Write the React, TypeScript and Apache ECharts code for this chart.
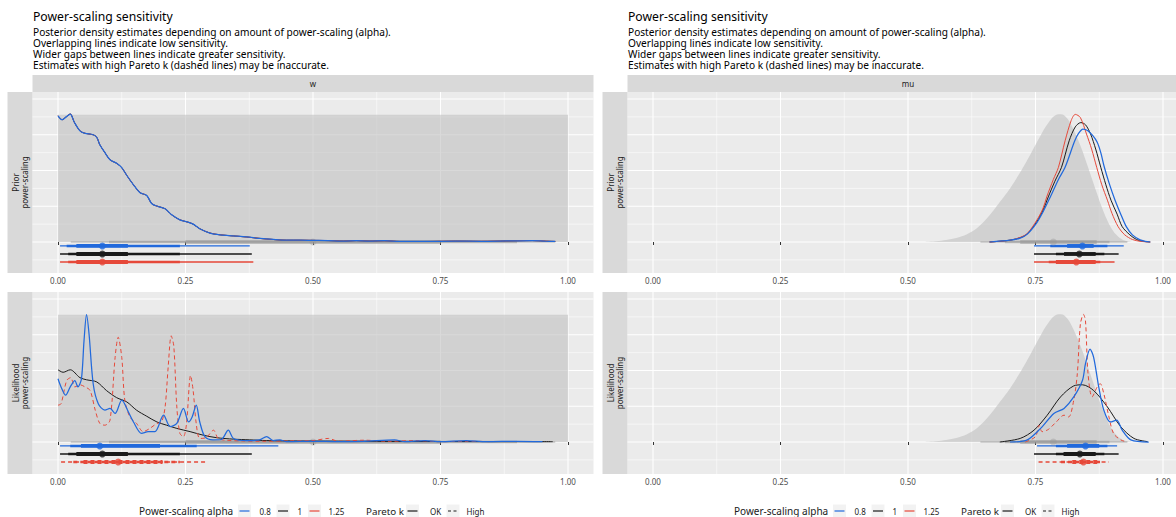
import React, { useEffect, useRef } from 'react';
import * as echarts from 'echarts';

// ---------- data ----------
const xTicks = [0, 0.25, 0.5, 0.75, 1];
const xMinorBreaks = [0.125, 0.375, 0.625, 0.875];
const yMajorBreaks = [0, 1, 2, 3, 4];
const yMinorBreaks = [-0.5, 0.5, 1.5, 2.5, 3.5];

const variables = ['w', 'mu'];
const componentLabels = ['Prior\npower-scaling', 'Likelihood\npower-scaling'];
const alphaLevels = ['0.8', '1', '1.25'];
const paretoLevels = ['OK', 'High'];

const titleText = 'Power-scaling sensitivity';
const subtitleLines = [
  'Posterior density estimates depending on amount of power-scaling (alpha).',
  'Overlapping lines indicate low sensitivity.',
  'Wider gaps between lines indicate greater sensitivity.',
  'Estimates with high Pareto k (dashed lines) may be inaccurate.',
];

// reference (un-scaled) densities
const wBaseDensity = [[0, 0], [0, 3.56], [1, 3.56], [1, 0]];
const muBaseDensity = [
  [0.52, 0], [0.54, 0.01], [0.56, 0.03], [0.58, 0.07], [0.6, 0.13], [0.62, 0.25], [0.64, 0.45],
  [0.66, 0.75], [0.68, 1.12], [0.7, 1.5], [0.72, 1.95], [0.74, 2.45], [0.76, 2.98], [0.775, 3.33],
  [0.79, 3.55], [0.8, 3.57], [0.81, 3.49], [0.82, 3.28], [0.83, 2.97], [0.84, 2.62], [0.85, 2.22],
  [0.86, 1.8], [0.87, 1.38], [0.88, 0.98], [0.89, 0.63], [0.9, 0.36], [0.91, 0.18], [0.92, 0.07],
  [0.93, 0.02], [0.94, 0],
];

// w, prior power-scaling (the three alpha curves coincide)
const wPriorScaled = [
  [0, 3.53], [0.008, 3.42], [0.016, 3.5], [0.024, 3.58], [0.032, 3.35], [0.043, 3.11], [0.053, 3.04],
  [0.069, 3.0], [0.076, 2.93], [0.082, 2.72], [0.092, 2.5], [0.102, 2.3], [0.115, 2.2], [0.125, 2.08],
  [0.135, 1.86], [0.148, 1.6], [0.161, 1.38], [0.174, 1.3], [0.184, 1.07], [0.197, 0.99], [0.21, 0.93],
  [0.223, 0.76], [0.239, 0.62], [0.256, 0.55], [0.265, 0.5], [0.278, 0.37], [0.298, 0.25], [0.318, 0.2],
  [0.344, 0.17], [0.37, 0.14], [0.396, 0.1], [0.422, 0.07], [0.448, 0.05], [0.475, 0.05], [0.5, 0.045],
  [0.53, 0.04], [0.56, 0.025], [0.585, 0.04], [0.61, 0.025], [0.64, 0.035], [0.67, 0.015], [0.72, 0.015],
  [0.78, 0.025], [0.83, 0.02], [0.88, 0.03], [0.93, 0.04], [0.955, 0.025], [0.975, 0.015],
];

// w, likelihood power-scaling
const wLik08 = [
  [0, 1.77], [0.006, 1.54], [0.015, 1.31], [0.024, 1.54], [0.033, 1.72], [0.039, 1.54], [0.046, 1.77],
  [0.051, 2.83], [0.056, 3.56], [0.061, 3.0], [0.069, 1.63], [0.079, 1.07], [0.092, 0.89], [0.102, 0.94],
  [0.112, 0.8], [0.125, 1.17], [0.138, 0.84], [0.148, 0.56], [0.164, 0.24], [0.177, 0.29], [0.19, 0.29],
  [0.207, 0.75], [0.22, 0.43], [0.233, 0.52], [0.246, 0.94], [0.256, 0.56], [0.263, 0.7], [0.271, 1.03],
  [0.278, 0.56], [0.288, 0.15], [0.304, 0.06], [0.32, 0.07], [0.334, 0.33], [0.344, 0.1], [0.37, 0.04],
  [0.395, 0.06], [0.409, 0.15], [0.422, 0.04], [0.435, 0.06], [0.448, 0.01], [0.5, 0.02], [0.55, 0.01],
  [0.6, 0.02], [0.66, 0.06], [0.68, 0.01], [0.72, 0.04], [0.75, 0.01], [0.8, 0.04], [0.84, 0.01],
  [0.9, 0.02], [0.95, 0.01],
];
const wLik1 = [
  [0, 2.02], [0.01, 1.95], [0.024, 2.02], [0.043, 1.8], [0.056, 1.74], [0.076, 1.68], [0.095, 1.44],
  [0.115, 1.24], [0.135, 1.12], [0.154, 0.89], [0.174, 0.72], [0.194, 0.56], [0.213, 0.47], [0.233, 0.38],
  [0.259, 0.29], [0.285, 0.19], [0.311, 0.12], [0.344, 0.08], [0.376, 0.06], [0.409, 0.04], [0.45, 0.03],
  [0.5, 0.025], [0.6, 0.02], [0.7, 0.015], [0.8, 0.012], [0.9, 0.01], [0.97, 0.01],
];
const wLik125 = [
  [0, 1.03], [0.006, 1.07], [0.017, 1.72], [0.025, 1.8], [0.033, 1.54], [0.043, 1.6], [0.053, 1.54],
  [0.063, 1.44], [0.073, 0.89], [0.082, 0.52], [0.092, 0.47], [0.102, 0.61], [0.112, 2.37], [0.118, 2.93],
  [0.125, 2.37], [0.131, 1.17], [0.141, 0.7], [0.154, 0.52], [0.167, 0.29], [0.18, 0.38], [0.194, 0.52],
  [0.203, 0.56], [0.21, 0.98], [0.216, 2.09], [0.222, 2.97], [0.227, 2.69], [0.233, 0.98], [0.239, 0.24],
  [0.246, 0.15], [0.252, 0.52], [0.26, 1.86], [0.265, 1.44], [0.271, 0.52], [0.278, 0.1], [0.29, 0.12],
  [0.305, 0.33], [0.314, 0.1], [0.33, 0.05], [0.36, 0.03], [0.4, 0.02], [0.45, 0.03], [0.5, 0.04],
  [0.53, 0.1], [0.55, 0.02], [0.6, 0.05], [0.65, 0.02], [0.7, 0.04], [0.75, 0.01], [0.8, 0.02], [0.85, 0.01],
];

// mu, prior power-scaling
const muPrior08 = [
  [0.66, 0], [0.7, 0.05], [0.72, 0.11], [0.734, 0.22], [0.753, 0.55], [0.765, 0.85], [0.779, 1.26],
  [0.795, 1.75], [0.808, 2.09], [0.827, 2.83], [0.835, 3.05], [0.843, 3.16], [0.852, 3.12], [0.862, 2.98],
  [0.871, 2.79], [0.878, 2.5], [0.885, 2.09], [0.895, 1.62], [0.906, 1.17], [0.918, 0.75], [0.928, 0.43],
  [0.94, 0.2], [0.955, 0.06], [0.965, 0.02], [0.975, 0],
];
const muPrior1 = [
  [0.66, 0], [0.7, 0.05], [0.72, 0.12], [0.734, 0.23], [0.753, 0.58], [0.765, 0.9], [0.775, 1.26],
  [0.788, 1.7], [0.801, 2.09], [0.816, 2.83], [0.828, 3.22], [0.839, 3.34], [0.848, 3.28], [0.858, 3.02],
  [0.868, 2.6], [0.878, 2.09], [0.888, 1.6], [0.898, 1.17], [0.91, 0.78], [0.92, 0.43], [0.935, 0.2],
  [0.948, 0.07], [0.96, 0.02], [0.975, 0],
];
const muPrior125 = [
  [0.66, 0], [0.7, 0.05], [0.72, 0.13], [0.734, 0.24], [0.753, 0.62], [0.765, 0.95], [0.772, 1.26],
  [0.785, 1.75], [0.795, 2.09], [0.808, 2.83], [0.82, 3.4], [0.828, 3.57], [0.838, 3.48], [0.85, 3.02],
  [0.86, 2.6], [0.87, 2.09], [0.88, 1.6], [0.891, 1.17], [0.9, 0.8], [0.912, 0.43], [0.925, 0.2],
  [0.94, 0.07], [0.955, 0.02], [0.975, 0],
];

// mu, likelihood power-scaling
const muLik08 = [
  [0.7, 0], [0.734, 0.06], [0.76, 0.38], [0.786, 0.8], [0.806, 0.94], [0.825, 1.26], [0.842, 1.72],
  [0.848, 2.19], [0.857, 2.6], [0.864, 2.37], [0.874, 1.54], [0.884, 0.89], [0.897, 0.56], [0.909, 0.61],
  [0.92, 0.33], [0.937, 0.06], [0.972, 0],
];
const muLik1 = [
  [0.68, 0], [0.72, 0.1], [0.747, 0.33], [0.773, 0.75], [0.799, 1.26], [0.825, 1.57], [0.842, 1.6],
  [0.864, 1.44], [0.891, 0.98], [0.917, 0.43], [0.943, 0.1], [0.97, 0.01],
];
const muLik125 = [
  [0.73, 0], [0.75, 0.15], [0.757, 0.47], [0.763, 0.29], [0.775, 0.35], [0.79, 0.55], [0.806, 0.75],
  [0.815, 0.7], [0.825, 1.17], [0.832, 1.91], [0.838, 3.3], [0.844, 3.57], [0.848, 3.39], [0.853, 1.91],
  [0.861, 1.26], [0.871, 1.54], [0.877, 1.63], [0.884, 1.35], [0.894, 0.7], [0.903, 0.24], [0.917, 0.06],
  [0.93, 0],
];

// point + interval summaries: [point, outerLo, outerHi, midLo, midHi, innerLo, innerHi]
const wBaseSummary = [0.5, 0.025, 0.975, 0.1, 0.9, 0.25, 0.75];
const muBaseSummary = [0.785, 0.642, 0.93, 0.69, 0.895, 0.72, 0.87];
const wPriorSummary = [
  [0.087, 0.004, 0.376, 0.017, 0.239, 0.036, 0.137],
  [0.087, 0.004, 0.38, 0.02, 0.239, 0.036, 0.137],
  [0.087, 0.004, 0.383, 0.02, 0.239, 0.036, 0.137],
];
const wLikSummary = [
  [0.082, 0.004, 0.432, 0.024, 0.272, 0.045, 0.2],
  [0.087, 0.004, 0.38, 0.02, 0.239, 0.036, 0.137],
  [0.118, 0.006, 0.29, 0.03, 0.239, 0.05, 0.205],
];
const muPriorSummary = [
  [0.842, 0.747, 0.923, 0.779, 0.891, 0.812, 0.864],
  [0.836, 0.747, 0.913, 0.79, 0.885, 0.806, 0.868],
  [0.83, 0.747, 0.905, 0.776, 0.877, 0.79, 0.868],
];
const muLikSummary = [
  [0.848, 0.753, 0.91, 0.79, 0.891, 0.812, 0.875],
  [0.837, 0.747, 0.913, 0.79, 0.885, 0.805, 0.868],
  [0.844, 0.756, 0.894, 0.8, 0.88, 0.822, 0.871],
];

// Pareto k diagnosis per alpha level
const wPriorPareto = ['OK', 'OK', 'OK'];
const wLikPareto = ['OK', 'OK', 'High'];
const muPriorPareto = ['OK', 'OK', 'OK'];
const muLikPareto = ['OK', 'OK', 'High'];

// ---------- layout & style ----------
const FONT = '"Noto Sans", "Open Sans", sans-serif';
const X_MIN = -0.05;
const PX_PER_X = 510;
const PX_PER_Y = 35.75;
const COLS = [
  { panelLeft: 32.5, panelWidth: 561, stripLeft: 7.5, offset: 0 },
  { panelLeft: 627.5, panelWidth: 548.5, stripLeft: 602.5, offset: 595 },
];
const ROWS = [
  { top: 92, height: 181, baseline: 242 },
  { top: 292, height: 182, baseline: 442 },
];
const STRIP_TOP = 75;
const STRIP_H = 17;
const STRIP_W = 25;
const ALPHA_COLORS = ['#2169DC', '#1A1A1A', '#E6493A'];
const LINE_WIDTHS = [1.25, 1, 1];
const DRAW_ORDER = [1, 2, 0];
const BASE_FILL = 'rgba(192,192,192,0.85)';
const BASE_INTERVAL = 'rgba(150,150,150,0.5)';
const INTERVAL_WIDTHS = [1.3, 2.6, 3.8];
const ALPHA_Y = [-0.11, -0.335, -0.56];
const PANEL_BG = '#EBEBEB';
const STRIP_BG = '#D9D9D9';
const DASH = [4, 3];

const panels = [
  { col: 0, row: 0, base: wBaseDensity, curves: [wPriorScaled, wPriorScaled, wPriorScaled], summary: wPriorSummary, baseSummary: wBaseSummary, pareto: wPriorPareto, smoothBase: false },
  { col: 1, row: 0, base: muBaseDensity, curves: [muPrior08, muPrior1, muPrior125], summary: muPriorSummary, baseSummary: muBaseSummary, pareto: muPriorPareto, smoothBase: true },
  { col: 0, row: 1, base: wBaseDensity, curves: [wLik08, wLik1, wLik125], summary: wLikSummary, baseSummary: wBaseSummary, pareto: wLikPareto, smoothBase: false },
  { col: 1, row: 1, base: muBaseDensity, curves: [muLik08, muLik1, muLik125], summary: muLikSummary, baseSummary: muBaseSummary, pareto: muLikPareto, smoothBase: true },
];

function buildOption() {
  const grid: any[] = [];
  const xAxis: any[] = [];
  const yAxis: any[] = [];
  const series: any[] = [];
  const graphic: any[] = [];

  panels.forEach((p, i) => {
    const col = COLS[p.col];
    const row = ROWS[p.row];
    grid.push({
      left: col.panelLeft, top: row.top, width: col.panelWidth, height: row.height,
      show: true, backgroundColor: PANEL_BG, borderWidth: 0, containLabel: false, outerBoundsMode: 'none',
    });
    xAxis.push({
      gridIndex: i, type: 'value', min: X_MIN, max: X_MIN + col.panelWidth / PX_PER_X,
      axisLine: { show: false }, splitLine: { show: false },
      axisTick: { show: true, customValues: xTicks, length: 3, lineStyle: { color: '#333333', width: 1 } },
      axisLabel: {
        customValues: xTicks, formatter: (v: number) => v.toFixed(2),
        color: '#4D4D4D', fontSize: 8, margin: 3, fontFamily: FONT,
      },
    });
    yAxis.push({
      gridIndex: i, type: 'value', show: false,
      min: -(row.top + row.height - row.baseline) / PX_PER_Y,
      max: (row.baseline - row.top) / PX_PER_Y,
    });

    // panel grid lines
    const gridData: number[][] = [];
    xTicks.forEach((v) => gridData.push([v, 0, 1]));
    xMinorBreaks.forEach((v) => gridData.push([v, 0, 0]));
    yMajorBreaks.forEach((v) => gridData.push([v, 1, 1]));
    yMinorBreaks.forEach((v) => gridData.push([v, 1, 0]));
    series.push({
      type: 'custom', xAxisIndex: i, yAxisIndex: i, silent: true, z: 0,
      data: gridData,
      renderItem: (params: any, api: any) => {
        const v = api.value(0);
        const orient = api.value(1);
        const major = api.value(2);
        const cs = params.coordSys;
        let shape;
        if (orient === 0) {
          const px = api.coord([v, 0])[0];
          shape = { x1: px, y1: cs.y, x2: px, y2: cs.y + cs.height };
        } else {
          const py = api.coord([0, v])[1];
          shape = { x1: cs.x, y1: py, x2: cs.x + cs.width, y2: py };
        }
        return { type: 'line', shape, style: { stroke: '#FFFFFF', lineWidth: major ? 1.1 : 0.55 } };
      },
    });

    // reference density
    series.push({
      type: 'line', xAxisIndex: i, yAxisIndex: i, z: 1, silent: true,
      data: p.base, showSymbol: false, smooth: p.smoothBase ? 0.4 : false,
      lineStyle: { width: 0 }, areaStyle: { color: BASE_FILL, origin: 0 },
    });

    // intervals
    const intervalData: number[][] = [];
    const b = p.baseSummary;
    intervalData.push([b[1], b[2], 0, 0, 3]);
    intervalData.push([b[3], b[4], 0, 1, 3]);
    intervalData.push([b[5], b[6], 0, 2, 3]);
    p.summary.forEach((s, a) => {
      intervalData.push([s[1], s[2], ALPHA_Y[a], 0, a]);
      intervalData.push([s[3], s[4], ALPHA_Y[a], 1, a]);
      intervalData.push([s[5], s[6], ALPHA_Y[a], 2, a]);
    });
    const pareto = p.pareto;
    series.push({
      type: 'custom', xAxisIndex: i, yAxisIndex: i, silent: true, z: 2,
      data: intervalData, encode: { x: [0, 1], y: 2 },
      renderItem: (_params: any, api: any) => {
        const lo = api.value(0), hi = api.value(1), y = api.value(2), wi = api.value(3), a = api.value(4);
        const p1 = api.coord([lo, y]);
        const p2 = api.coord([hi, y]);
        const high = a < 3 && pareto[a] === 'High';
        return {
          type: 'line',
          shape: { x1: p1[0], y1: p1[1], x2: p2[0], y2: p2[1] },
          style: {
            stroke: a === 3 ? BASE_INTERVAL : ALPHA_COLORS[a],
            lineWidth: INTERVAL_WIDTHS[wi],
            lineDash: high ? DASH : null,
            lineCap: 'butt',
          },
        };
      },
    });

    // point estimates
    const pts: any[] = [{ value: [b[0], 0], itemStyle: { color: BASE_INTERVAL } }];
    p.summary.forEach((s, a) => pts.push({ value: [s[0], ALPHA_Y[a]], itemStyle: { color: ALPHA_COLORS[a] } }));
    series.push({
      type: 'scatter', xAxisIndex: i, yAxisIndex: i, silent: true, z: 3,
      symbolSize: 7, data: pts,
    });

    // power-scaled densities
    DRAW_ORDER.forEach((a) => {
      series.push({
        type: 'line', xAxisIndex: i, yAxisIndex: i, z: 4, silent: true,
        name: alphaLevels[a],
        data: p.curves[a], showSymbol: false, smooth: 0.3,
        lineStyle: { color: ALPHA_COLORS[a], width: LINE_WIDTHS[a], type: p.pareto[a] === 'High' ? DASH : 'solid' },
      });
    });

    // row strip (left)
    graphic.push({
      type: 'rect', silent: true,
      shape: { x: col.stripLeft, y: row.top, width: STRIP_W, height: row.height },
      style: { fill: STRIP_BG },
    });
    graphic.push({
      type: 'text', silent: true,
      x: col.stripLeft + STRIP_W / 2, y: row.top + row.height / 2, rotation: Math.PI / 2,
      style: {
        text: componentLabels[p.row], fontSize: 8, fontFamily: FONT, fill: '#1A1A1A',
        align: 'center', verticalAlign: 'middle', lineHeight: 9.5,
      },
    });
  });

  COLS.forEach((col, c) => {
    // column strip
    graphic.push({
      type: 'rect', silent: true,
      shape: { x: col.panelLeft, y: STRIP_TOP, width: col.panelWidth + (c === 0 ? 0 : 20), height: STRIP_H },
      style: { fill: STRIP_BG },
    });
    graphic.push({
      type: 'text', silent: true,
      x: COLS[0].panelLeft + COLS[0].panelWidth / 2 + col.offset, y: STRIP_TOP + STRIP_H / 2,
      style: { text: variables[c], fontSize: 8, fontFamily: FONT, fill: '#1A1A1A', align: 'center', verticalAlign: 'middle' },
    });
    // titles
    graphic.push({
      type: 'text', silent: true, x: 33 + col.offset, y: 16,
      style: { text: titleText, fontSize: 12.2, fontFamily: FONT, fill: '#000000', align: 'left', verticalAlign: 'middle' },
    });
    subtitleLines.forEach((line, k) => {
      graphic.push({
        type: 'text', silent: true, x: 33 + col.offset, y: 31.8 + k * 11,
        style: {
          text: line, fontSize: 10.15, lineHeight: 11, fontFamily: FONT,
          fill: '#000000', align: 'left', verticalAlign: 'middle',
        },
      });
    });

    // legend
    const ly = 511;
    const o = col.offset;
    const key = (x: number, color: string, dashed: boolean) => {
      graphic.push({ type: 'rect', silent: true, shape: { x: x + o, y: ly - 6.5, width: 13, height: 13 }, style: { fill: '#F2F2F2' } });
      graphic.push({
        type: 'line', silent: true,
        shape: { x1: x + o + 1.5, y1: ly, x2: x + o + 11.5, y2: ly },
        style: { stroke: color, lineWidth: 1.2, lineDash: dashed ? [3, 2.5] : null },
      });
    };
    const label = (x: number, text: string, size: number) => {
      graphic.push({
        type: 'text', silent: true, x: x + o, y: ly,
        style: { text, fontSize: size, fontFamily: FONT, fill: '#1A1A1A', align: 'left', verticalAlign: 'middle' },
      });
    };
    label(139, 'Power-scaling alpha', 10);
    const alphaKeyX = [238, 276.5, 308];
    const alphaLabelX = [259.5, 297.5, 328.5];
    alphaLevels.forEach((lv, a) => {
      key(alphaKeyX[a], ALPHA_COLORS[a], false);
      label(alphaLabelX[a], lv, 8);
    });
    label(366, 'Pareto k', 9.8);
    const paretoKeyX = [406, 446.5];
    const paretoLabelX = [430, 466.5];
    paretoLevels.forEach((lv, k) => {
      key(paretoKeyX[k], '#1A1A1A', lv === 'High');
      label(paretoLabelX[k], lv, 8);
    });
  });

  return { animation: false, backgroundColor: '#FFFFFF', grid, xAxis, yAxis, series, graphic };
}

export default function App() {
  const ref = useRef<HTMLDivElement>(null);
  useEffect(() => {
    if (!ref.current) return;
    const chart = echarts.init(ref.current, undefined, { renderer: 'svg' });
    chart.setOption(buildOption() as any);
    return () => chart.dispose();
  }, []);
  return (
    <div
      ref={ref}
      style={{ position: 'fixed', left: 0, top: 0, width: 1176, height: 517, background: '#FFFFFF' }}
    />
  );
}
